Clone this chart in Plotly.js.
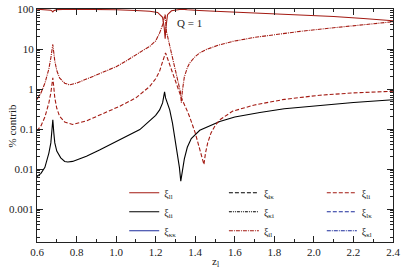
<!DOCTYPE html>
<html><head><meta charset="utf-8">
<script src="https://cdn.plot.ly/plotly-3.0.1.min.js"></script>
<style>html,body{margin:0;padding:0;background:#fff}#c{width:407px;height:271px}</style>
</head><body><div id="c"></div>
<script>
// ---- data ----
const zLL = [0.6,0.65,0.67,0.675,0.68,0.685,0.69,0.7,0.76,0.9,1.0,1.1,1.17,1.21,1.235,1.243,1.248,1.252,1.26,1.28,1.3,1.33,1.36,1.38,1.42,1.5,1.6,1.7,1.8,1.93,2.1,2.25,2.4];
const xiLL = [99,97,93,90,85,91,94,96.5,98.5,97.5,96,92,88,82,62,35,18,35,72,90,95,99,96,94,92,88,84,80,76,72,65,58,51];

const zIL = [0.6,0.62,0.64,0.66,0.67,0.675,0.68,0.685,0.69,0.7,0.714,0.74,0.765,0.8,0.9,0.967,1.0,1.05,1.1,1.12,1.15,1.17,1.2,1.22,1.235,1.243,1.248,1.254,1.26,1.28,1.3,1.315,1.325,1.33,1.335,1.345,1.36,1.372,1.4,1.423,1.457,1.524,1.59,1.7,1.8,1.93,2.1,2.25,2.4];
const xiIL = [0.55,0.8,1.4,3.2,6,9,13,8,5,2.9,1.9,1.4,1.27,1.4,2.2,3.0,3.6,5,7.2,8.5,10.2,11.6,16,25,40,60,74,28,21,7.7,2.9,1.4,0.85,0.45,0.9,2,3.4,4.5,6.5,8,9.8,12.8,15.5,19.5,23,27.6,34,41,48];

const zLI = [0.6,0.62,0.64,0.66,0.67,0.675,0.68,0.685,0.69,0.7,0.714,0.74,0.78,0.85,0.967,1.018,1.1,1.17,1.2,1.22,1.236,1.25,1.26,1.28,1.3,1.33,1.36,1.372,1.4,1.42,1.435,1.444,1.452,1.463,1.48,1.5,1.524,1.59,1.7,1.85,2.03,2.2,2.4];
const xiLI = [0.09,0.12,0.2,0.45,0.8,1.2,1.9,1.1,0.6,0.33,0.21,0.15,0.13,0.16,0.28,0.37,0.6,1.16,1.8,2.8,5,8,5.8,3.0,1.6,0.6,0.28,0.2,0.08,0.035,0.02,0.013,0.025,0.045,0.08,0.12,0.17,0.28,0.4,0.55,0.7,0.8,0.88];

const zII = [0.6,0.62,0.64,0.66,0.67,0.675,0.68,0.685,0.69,0.7,0.72,0.74,0.756,0.78,0.85,0.916,1.018,1.12,1.2,1.22,1.235,1.245,1.25,1.26,1.271,1.285,1.296,1.31,1.32,1.327,1.335,1.345,1.36,1.38,1.423,1.524,1.6,1.727,1.85,2.03,2.2,2.4];
const xiII = [0.0065,0.0078,0.011,0.025,0.045,0.075,0.17,0.08,0.045,0.028,0.019,0.0155,0.015,0.0155,0.021,0.030,0.055,0.097,0.22,0.3,0.45,0.85,0.6,0.42,0.3,0.14,0.065,0.025,0.011,0.005,0.009,0.018,0.035,0.058,0.093,0.155,0.2,0.26,0.32,0.39,0.46,0.54];

// series that have no visible line in the picture (only their legend keys show)
const zNone = [null];
const xiKK = [null], xiIK = [null], xiKI = [null], xiLK = [null], xiKL = [null];

const xTickVals = [0.6,0.8,1.0,1.2,1.4,1.6,1.8,2.0,2.2,2.4];
const xTickText = ["0.6","0.8","1.0","1.2","1.4","1.6","1.8","2.0","2.2","2.4"];
const yTickVals = [0.001,0.01,0.1,1,10,100];
const yTickText = ["0.001","0.01","0.1","1","10","100"];

// ---- styling ----
const RED = '#a31a12', BLUE = '#1c2c9c', BLK = '#000';
const SERIF = 'Times New Roman';
const yMinor = [];
for (let e = -4; e < 2; e++) for (let m = 2; m <= 9; m++) yMinor.push(m * Math.pow(10, e));

function tr(name, x, y, color, dash, legend, rank) {
  return {type:'scatter', mode:'lines', name:name, x:x, y:y, showlegend:true,
    line:{color:color, width:1.1, dash:dash}, legend:legend, legendrank:rank};
}
const traces = [
  tr('ξ<sub>κκ</sub>', zNone, xiKK, BLUE, 'solid', 'legend', 3),
  tr('ξ<sub>iκ</sub>', zNone, xiIK, BLK, '4px,2px', 'legend2', 1),
  tr('ξ<sub>κi</sub>', zNone, xiKI, BLK, '3px,1px,1px,1px,1px,1px', 'legend2', 2),
  tr('ξ<sub>lκ</sub>', zNone, xiLK, BLUE, '4px,2px', 'legend3', 2),
  tr('ξ<sub>κl</sub>', zNone, xiKL, BLUE, '4px,1px,1px,1px', 'legend3', 3),
  tr('ξ<sub>ii</sub>', zII, xiII, BLK, 'solid', 'legend', 2),
  tr('ξ<sub>li</sub>', zLI, xiLI, RED, '4px,2px', 'legend3', 1),
  tr('ξ<sub>il</sub>', zIL, xiIL, RED, '4px,1px,1px,1px', 'legend2', 3),
  tr('ξ<sub>ll</sub>', zLL, xiLL, RED, 'solid', 'legend', 1)
];

const axBase = {showline:true, linecolor:'#222', linewidth:1, mirror:'ticks', ticks:'inside',
  ticklen:6, tickwidth:1, tickcolor:'#222', showgrid:false, zeroline:false,
  tickfont:{family:SERIF, size:11, color:'#222'}};
const legBase = {font:{family:SERIF, size:10, color:'#222'}, bgcolor:'rgba(0,0,0,0)',
  yanchor:'middle', xanchor:'left', traceorder:'normal', y:0.13};

const layout = {
  width:407, height:271, margin:{l:37, r:14, t:9, b:29},
  paper_bgcolor:'#fff', plot_bgcolor:'#fff', showlegend:true,
  font:{family:SERIF, size:11, color:'#222'},
  xaxis: Object.assign({}, axBase, {range:[0.6,2.4], tickvals:xTickVals, ticktext:xTickText,
    minor:{dtick:0.1, tick0:0.6, ticks:'inside', ticklen:3, tickcolor:'#222'}}),
  yaxis: Object.assign({}, axBase, {type:'log', range:[Math.log10(1.5e-4), 2],
    tickvals:yTickVals, ticktext:yTickText,
    minor:{tickvals:yMinor, ticks:'inside', ticklen:3, tickcolor:'#222'}}),
  legend: Object.assign({}, legBase, {x:0.245}),
  legend2: Object.assign({}, legBase, {x:0.525}),
  legend3: Object.assign({}, legBase, {x:0.80}),
  annotations:[
    {text:'Q = 1', xref:'x', yref:'y', x:1.37, y:1.66, xanchor:'center', showarrow:false,
     font:{family:SERIF, size:11, color:'#222'}},
    {text:'% contrib', xref:'paper', yref:'paper', x:-0.073, y:0.5, textangle:-90,
     xanchor:'center', yanchor:'middle',
     showarrow:false, font:{family:SERIF, size:11, color:'#222'}},
    {text:'z<sub>l</sub>', xref:'paper', yref:'paper', x:0.5, y:-0.087, xanchor:'center', yanchor:'middle',
     showarrow:false, font:{family:SERIF, size:11, color:'#222'}}
  ]
};
Plotly.newPlot('c', traces, layout, {displayModeBar:false, staticPlot:true});
</script></body></html>
